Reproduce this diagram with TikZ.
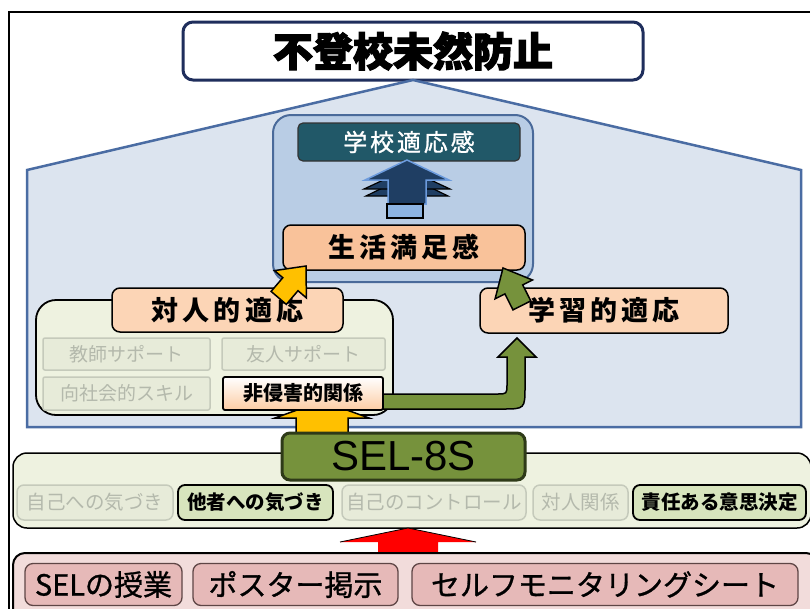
\documentclass[tikz,border=0pt]{standalone}
\usepackage{fontspec}
\newfontfamily\jp{Noto Sans CJK JP}
\newfontfamily\jph{Noto Sans CJK JP}[FakeBold=3]
\newfontfamily\jpm{Noto Sans CJK JP}[FakeBold=1]
\newfontfamily\lat{Liberation Sans}
\definecolor{housefill}{HTML}{DCE4EF}
\definecolor{housedraw}{HTML}{4A6CA3}
\definecolor{innerfill}{HTML}{B9CDE5}
\definecolor{innerdraw}{HTML}{4A6A9A}
\definecolor{teal}{HTML}{215868}
\definecolor{navy}{HTML}{1F3E63}
\definecolor{navyedge}{HTML}{6C9BDD}
\definecolor{lightblue}{HTML}{8DB4E2}
\definecolor{titledraw}{HTML}{1F2E5C}
\definecolor{peach}{HTML}{FCD5B6}
\definecolor{peachdark}{HTML}{F9C29A}
\definecolor{cream}{HTML}{EEF2E0}
\definecolor{fadefill}{HTML}{E7EBD9}
\definecolor{fadedraw}{HTML}{C5CABB}
\definecolor{fadetext}{HTML}{B4B9AC}
\definecolor{gold}{HTML}{FFC000}
\definecolor{olive}{HTML}{76923C}
\definecolor{olivedark}{HTML}{2E3A18}
\definecolor{olivelight}{HTML}{D7E4BD}
\definecolor{pinkband}{HTML}{F2DCDB}
\definecolor{pinkbox}{HTML}{E6B9B8}
\definecolor{pinkdraw}{HTML}{5E4545}
\tikzset{
  base/.style={inner sep=0pt, outer sep=0pt, align=center},
  titlebox/.style={base, draw=titledraw, line width=3pt, fill=white, rounded corners=10pt,
    font=\jph\bfseries\fontsize{40}{40}\selectfont},
  tealbox/.style={base, draw=black!80, line width=1.2pt, fill=teal, rounded corners=5pt, text=white,
    font=\jpm\addfontfeature{LetterSpace=12}\fontsize{24}{24}\selectfont},
  peachbox/.style={base, draw=black, line width=1.5pt, fill=peach, rounded corners=8pt,
    font=\jp\bfseries\addfontfeature{LetterSpace=15}\fontsize{27}{27}\selectfont},
  fadebox/.style={base, draw=fadedraw, line width=1.5pt, fill=fadefill, rounded corners=2pt, text=fadetext,
    font=\jp\fontsize{19}{19}\selectfont},
  activebox/.style={base, draw=black, line width=1.8pt, top color=white, bottom color=peach!90!orange,
    rounded corners=2pt, font=\jp\bfseries\fontsize{20}{20}\selectfont},
  groupbox/.style={base, draw=black, line width=1.8pt, fill=cream, rounded corners=20pt},
  bandbox/.style={base, draw=black, line width=1.5pt, fill=cream, rounded corners=14pt},
  selbox/.style={base, draw=olivedark, line width=3pt, fill=olive, rounded corners=8pt,
    font=\lat\fontsize{42}{42}\selectfont},
  rowfade/.style={base, draw=fadedraw, line width=1.5pt, fill=fadefill, rounded corners=7pt, text=fadetext,
    font=\jp\fontsize{19.5}{19.5}\selectfont},
  rowact/.style={base, draw=black, line width=1.8pt, fill=olivelight, rounded corners=7pt,
    font=\jp\bfseries\fontsize{19.5}{19.5}\selectfont},
  pinkband/.style={base, draw=black, line width=2pt, fill=pinkband, rounded corners=12pt},
  pinkb/.style={base, draw=pinkdraw, line width=1.3pt, fill=pinkbox, rounded corners=8pt,
    font=\jpm\fontsize{29}{29}\selectfont},
  garrow/.style={draw=black, line width=1.5pt, fill=olive, line join=miter},
  yarrow/.style={draw=black, line width=1.5pt, fill=gold, line join=miter},
}
\begin{document}
\begin{tikzpicture}[x=1pt,y=-1pt]
\useasboundingbox (0,0) rectangle (810,608);
\clip (0,0) rectangle (810,608);
\fill[white] (0,0) rectangle (810,608);
% outer frame
\draw[black, line width=1.5pt] (9,12) rectangle (818,620);
% title
\node[titlebox, minimum width=460pt, minimum height=58pt] (title) at (413,51) {不登校未然防止};
% house
\draw[fill=housefill, draw=housedraw, line width=2.5pt, line join=miter]
  (27,427) -- (27,170) -- (title.south) -- (801,170) -- (801,427) -- cycle;
% inner box
\node[base, draw=innerdraw, line width=2pt, fill=innerfill, rounded corners=18pt,
  minimum width=260pt, minimum height=167pt] (inner) at (403,198.5) {};
\node[tealbox, minimum width=222pt, minimum height=38pt] (gakko) at (409,142) {学校適応感};
% navy stacked arrow
\coordinate (nt) at (407,160);
\foreach \d/\w in {16/38,9/40}{
  \draw[black, line width=1.2pt, fill=navy, line join=miter]
    (407-\w-3,180+\d) -- (407,160+\d) -- (407+\w+3,180+\d) -- cycle;
}
\draw[navyedge, line width=1.5pt, fill=navy, line join=miter]
  (365,180) -- (nt) -- (449,180) -- (426,180) -- (426,204) -- (388,204) -- (388,180) -- cycle;
\draw[black, line width=1.3pt, fill=lightblue] (387,204) rectangle (423,218);
\node[peachbox, fill=peachdark, minimum width=242pt, minimum height=45pt] (seikatsu) at (404,247.5) {生活満足感};
% interpersonal group
\node[groupbox, minimum width=357pt, minimum height=115pt] (group) at (214.5,357.5) {};
\node[fadebox, minimum width=167pt, minimum height=32pt] (kyoshi) at (126.5,354) {教師サポート};
\node[fadebox, minimum width=163pt, minimum height=32pt] (yujin) at (303.5,354) {友人サポート};
\node[fadebox, minimum width=167pt, minimum height=33pt] (kousha) at (126.5,393.5) {向社会的スキル};
\node[peachbox, minimum width=231pt, minimum height=44pt] (taijin) at (227.5,310) {対人的適応};
% yellow diagonal arrow
\draw[yarrow] (306,266) -- (306.4,297.9) -- (298,290.7) -- (286.3,304.4) -- (271.1,291.4)
  -- (282.8,277.7) -- (274.4,270.6) -- cycle;
% academic
\node[peachbox, minimum width=248pt, minimum height=45pt] (gakushu) at (604,310.5) {学習的適応};
\draw[garrow] (503,268) -- (532.5,280) -- (522.7,284.9) -- (530.8,300.9) -- (513,309.9)
  -- (504.9,293.9) -- (495.1,298.8) -- cycle;
% green U arrow
\coordinate (ut) at (517,338);
\draw[garrow] (383,394) -- (497,394) .. controls (507,394) .. (507,384) -- (507,357) -- (498,357)
  -- (ut) -- (536,357) -- (525,357) -- (525,386) .. controls (525,409) .. (502,409) -- (383,409) -- cycle;
% yellow up arrow
\coordinate (yt) at (322,401);
\draw[yarrow] (yt) -- (369,418) -- (348,418) -- (348,440) -- (296,440) -- (296,418) -- (275,418) -- cycle;
\node[activebox, minimum width=160pt, minimum height=33pt] (hishin) at (303,393.5) {非侵害的関係};
% SEL band
\node[bandbox, minimum width=798pt, minimum height=75pt] (band) at (412,490.5) {};
\node[selbox, minimum width=243pt, minimum height=47pt] (sel) at (403.5,456.5) {SEL-8S};
\node[rowfade, minimum width=156pt, minimum height=35pt] (r1) at (95,502.5) {自己への気づき};
\node[rowact,  minimum width=155pt, minimum height=35pt] (r2) at (255.5,502.5) {他者への気づき};
\node[rowfade, minimum width=184pt, minimum height=35pt] (r3) at (434,502.5) {自己のコントロール};
\node[rowfade, minimum width=95pt,  minimum height=35pt] (r4) at (580.5,502.5) {対人関係};
\node[rowact,  minimum width=173pt, minimum height=35pt] (r5) at (719.5,502.5) {責任ある意思決定};
% red arrow
\coordinate (rt) at (408,528);
\fill[red] (rt) -- (476,542) -- (438,542) -- (438,556) -- (378,556) -- (378,542) -- (340,542) -- cycle;
\draw[black, line width=0.8pt] (340,542) -- (rt) -- (476,542);
% bottom band
\node[pinkband, minimum width=805pt, minimum height=70pt] (pband) at (415.5,588) {};
\node[pinkb, minimum width=157pt, minimum height=42pt] (b1) at (103.5,584.5) {SELの授業};
\node[pinkb, minimum width=205pt, minimum height=42pt] (b2) at (295.5,584.5) {ポスター掲示};
\node[pinkb, minimum width=386pt, minimum height=42pt] (b3) at (605,584.5) {セルフモニタリングシート};
\end{tikzpicture}
\end{document}
